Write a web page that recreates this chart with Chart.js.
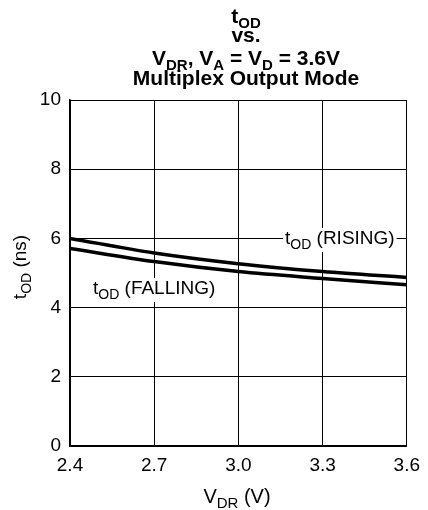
<!DOCTYPE html>
<html>
<head>
<meta charset="utf-8">
<script src="https://cdn.jsdelivr.net/npm/chart.js@4"></script>
<style>
html, body { margin: 0; padding: 0; background: #fff; }
#wrap { width: 428px; height: 510px; }
</style>
</head>
<body>
<div id="wrap"><canvas id="chart"></canvas></div>
<script>
const vdr = [2.4, 2.7, 3.0, 3.3, 3.6];
const tRising = [6.0, 5.58, 5.27, 5.04, 4.87];
const tFalling = [5.71, 5.33, 5.04, 4.84, 4.66];
const xTicks = [2.4, 2.7, 3.0, 3.3, 3.6];
const yTicks = [0, 2, 4, 6, 8, 10];

const FONT = '"Liberation Sans", Arial, sans-serif';

// draws text where some pieces are subscripts, returns width
function drawSub(ctx, parts, x, y, size, subSize, bold, align) {
  const w = bold ? "bold " : "";
  const drop = Math.round(size * 0.24);
  let total = 0;
  parts.forEach(p => {
    ctx.font = w + (p.sub ? subSize : size) + "px " + FONT;
    total += ctx.measureText(p.t).width;
  });
  let cx = x;
  if (align === "center") cx = x - total / 2;
  if (align === "right") cx = x - total;
  const start = cx;
  ctx.textAlign = "left";
  ctx.textBaseline = "alphabetic";
  ctx.fillStyle = "#000";
  parts.forEach(p => {
    ctx.font = w + (p.sub ? subSize : size) + "px " + FONT;
    ctx.fillText(p.t, cx, p.sub ? y + drop : y);
    cx += ctx.measureText(p.t).width;
  });
  return { x: start, w: total };
}

function measureSub(ctx, parts, size, subSize) {
  let total = 0;
  parts.forEach(p => {
    ctx.font = (p.sub ? subSize : size) + "px " + FONT;
    total += ctx.measureText(p.t).width;
  });
  return total;
}

const textPlugin = {
  id: "texts",
  beforeDatasetsDraw(chart) {
    const ctx = chart.ctx;
    ctx.save();
    // curve labels with white boxes
    const labels = [
      { parts: [{ t: "t" }, { t: "OD", sub: true }, { t: " (RISING)" }], x: 285, y: 244 },
      { parts: [{ t: "t" }, { t: "OD", sub: true }, { t: " (FALLING)" }], x: 93, y: 294 }
    ];
    labels.forEach(l => {
      const w = measureSub(ctx, l.parts, 19, 14);
      ctx.fillStyle = "#fff";
      ctx.fillRect(l.x - 2, l.y - 16, w + 4, 24);
      drawSub(ctx, l.parts, l.x, l.y, 19, 14, false, "left");
    });
    ctx.restore();
  },
  afterDraw(chart) {
    const ctx = chart.ctx;
    ctx.save();
    const cx = 246;
    drawSub(ctx, [{ t: "t" }, { t: "OD", sub: true }], cx, 23, 21, 15, true, "center");
    drawSub(ctx, [{ t: "vs." }], cx, 42, 21, 15, true, "center");
    drawSub(ctx, [
      { t: "V" }, { t: "DR", sub: true }, { t: ", V" }, { t: "A", sub: true },
      { t: " = V" }, { t: "D", sub: true }, { t: " = 3.6V" }
    ], cx, 65, 21, 15, true, "center");
    drawSub(ctx, [{ t: "Multiplex Output Mode" }], cx, 85, 21, 15, true, "center");

    // x axis title
    drawSub(ctx, [{ t: "V" }, { t: "DR", sub: true }, { t: " (V)" }], 237, 503, 20, 15, false, "center");

    // y axis title, rotated
    ctx.translate(26, 267);
    ctx.rotate(-Math.PI / 2);
    drawSub(ctx, [{ t: "t" }, { t: "OD", sub: true }, { t: " (ns)" }], 0, 0, 19, 14, false, "center");
    ctx.restore();
  }
};

const lineStyle = {
  borderColor: "#000",
  borderWidth: 3.5,
  pointRadius: 0,
  fill: false,
  cubicInterpolationMode: "monotone"
};

new Chart(document.getElementById("chart"), {
  type: "line",
  data: {
    datasets: [
      Object.assign({ label: "tOD (RISING)", data: vdr.map((v, i) => ({ x: v, y: tRising[i] })) }, lineStyle),
      Object.assign({ label: "tOD (FALLING)", data: vdr.map((v, i) => ({ x: v, y: tFalling[i] })) }, lineStyle)
    ]
  },
  options: {
    responsive: true,
    maintainAspectRatio: false,
    animation: false,
    events: [],
    layout: { padding: { top: 100, right: 18, left: 0, bottom: 0 } },
    plugins: {
      legend: { display: false },
      tooltip: { enabled: false },
      title: { display: false }
    },
    scales: {
      x: {
        type: "linear",
        min: 2.4,
        max: 3.6,
        afterBuildTicks: s => { s.ticks = xTicks.map(v => ({ value: v })); },
        afterFit: s => { s.height = 64; },
        grid: { color: "#000", lineWidth: 1, drawTicks: false },
        border: { color: "#000", width: 1.5 },
        ticks: {
          color: "#000",
          padding: 8,
          maxRotation: 0,
          font: { family: FONT, size: 19 },
          callback: v => v.toFixed(1)
        }
      },
      y: {
        min: 0,
        max: 10,
        afterBuildTicks: s => { s.ticks = yTicks.map(v => ({ value: v })); },
        afterFit: s => { s.width = 70; },
        grid: { color: "#000", lineWidth: 1, drawTicks: false },
        border: { color: "#000", width: 1.5 },
        ticks: {
          color: "#000",
          padding: 9,
          font: { family: FONT, size: 19 },
          callback: v => String(v)
        }
      }
    }
  },
  plugins: [textPlugin]
});
</script>
</body>
</html>
